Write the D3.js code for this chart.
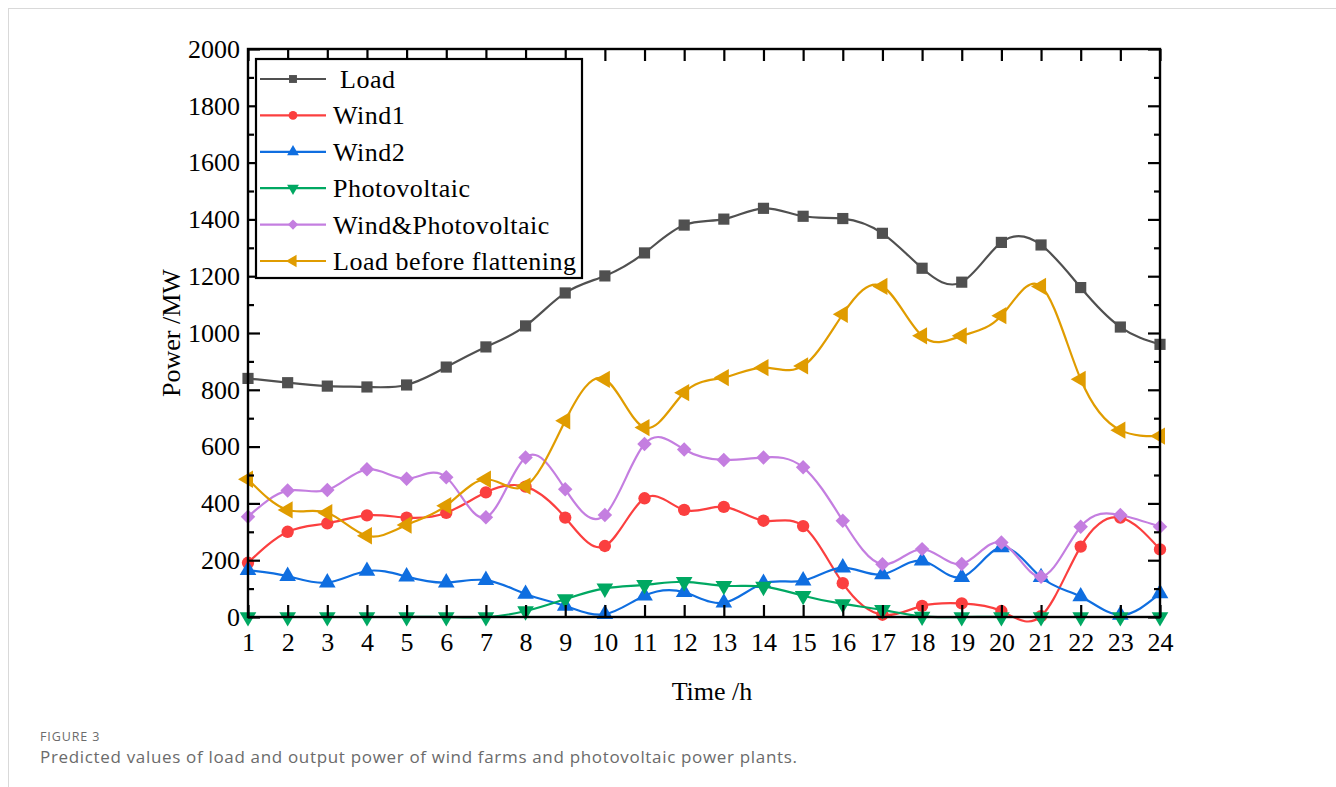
<!DOCTYPE html>
<html>
<head>
<meta charset="utf-8">
<script src="https://cdn.jsdelivr.net/npm/d3@7"></script>
<style>
  html, body { margin: 0; padding: 0; background: #fff; }
  svg { display: block; }
</style>
</head>
<body>
<svg id="chart" width="1336" height="787"></svg>
<script>
// Hourly forecast, MW
const hours = d3.range(1, 25);
const load = [840, 825, 813, 810, 817, 880, 951, 1025, 1141, 1201, 1282, 1380,
              1401, 1439, 1411, 1403, 1351, 1228, 1179, 1319, 1310, 1160, 1021, 960];
const wind1 = [191, 300, 330, 358, 350, 367, 439, 459, 350, 250, 418, 377,
               388, 339, 320, 119, 8, 39, 48, 21, 3, 248, 350, 238];
const wind2 = [165, 144, 121, 162, 142, 121, 130, 81, 39, 10, 75, 87,
               50, 119, 128, 174, 150, 198, 140, 245, 140, 72, 7, 83];
const photovoltaic = [0, 0, 0, 0, 0, 0, 0, 21, 63, 101, 113, 124,
                      110, 107, 75, 46, 25, 2, 0, 0, 0, 0, 0, 0];
const windPhotovoltaic = [353, 445, 447, 520, 487, 492, 351, 562, 450, 359, 609, 590,
                          553, 562, 527, 339, 186, 239, 187, 262, 142, 318, 359, 318];
const loadBeforeFlattening = [485, 377, 367, 286, 324, 392, 485, 461, 691, 837, 667, 790,
                              843, 878, 884, 1066, 1164, 990, 990, 1061, 1164, 837, 658, 637];
const yTicks = [0, 200, 400, 600, 800, 1000, 1200, 1400, 1600, 1800, 2000];
const yMinorTicks = d3.range(100, 2000, 200);

const series = [
  { name: "\u00a0Load", values: load, color: "#505050", symbol: d3.symbolSquare, size: 125, rotate: 0 },
  { name: "Wind1", values: wind1, color: "#fb3f3f", symbol: d3.symbolCircle, size: 120, rotate: 0 },
  { name: "Wind2", values: wind2, color: "#0f6ee0", symbol: d3.symbolTriangle, size: 120, rotate: 0 },
  { name: "Photovoltaic", values: photovoltaic, color: "#00a862", symbol: d3.symbolTriangle, size: 120, rotate: 180 },
  { name: "Wind&Photovoltaic", values: windPhotovoltaic, color: "#c47ee0", symbol: d3.symbolSquare, size: 105, rotate: 45 },
  { name: "Load before flattening", values: loadBeforeFlattening, color: "#e09c00", symbol: d3.symbolTriangle, size: 130, rotate: -90 }
];

const svg = d3.select("#chart");
const plotLeft = 248, plotRight = 1160, plotTop = 49, plotBottom = 617;
const serif = "'Liberation Serif', 'Times New Roman', serif";
const sans = "'Open Sans', 'Noto Sans', sans-serif";

const x = d3.scaleLinear().domain([1, 24]).range([plotLeft, plotRight]);
const y = d3.scaleLinear().domain([0, 2000]).range([plotBottom, plotTop]);

// outer frame of the figure panel
svg.append("rect").attr("x", 8.5).attr("y", 8.5).attr("width", 1336).attr("height", 800)
  .attr("fill", "none").attr("stroke", "#d9d9d9").attr("stroke-width", 1);

// series lines and markers
const line = d3.line().x((d, i) => x(hours[i])).y(d => y(d)).curve(d3.curveNatural);
const plot = svg.append("g");
series.forEach(s => {
  plot.append("path").attr("d", line(s.values))
    .attr("fill", "none").attr("stroke", s.color).attr("stroke-width", 2.2);
  const sym = d3.symbol().type(s.symbol).size(s.size);
  plot.append("g").selectAll("path").data(s.values).join("path")
    .attr("d", sym)
    .attr("transform", (d, i) => `translate(${x(hours[i])},${y(d)}) rotate(${s.rotate})`)
    .attr("fill", s.color);
});

// axes: ticks pointing inward on all four sides
const axisStyle = g => {
  g.attr("font-family", null);
  g.select(".domain").remove();
  g.selectAll(".tick line").attr("stroke", "#000").attr("stroke-width", 2.2);
  g.selectAll(".tick text").style("font-family", serif).style("font-size", "26px").attr("fill", "#000");
};

svg.append("g").attr("transform", `translate(${plotLeft},0)`)
  .call(d3.axisLeft(y).tickValues(yTicks).tickFormat(d3.format("d")).tickSizeInner(-12).tickPadding(8))
  .call(axisStyle);
svg.append("g").attr("transform", `translate(${plotLeft},0)`)
  .call(d3.axisLeft(y).tickValues(yMinorTicks).tickFormat("").tickSizeInner(-6))
  .call(axisStyle);
svg.append("g").attr("transform", `translate(${plotRight},0)`)
  .call(d3.axisRight(y).tickValues(yTicks).tickFormat("").tickSizeInner(-12))
  .call(axisStyle);
svg.append("g").attr("transform", `translate(${plotRight},0)`)
  .call(d3.axisRight(y).tickValues(yMinorTicks).tickFormat("").tickSizeInner(-6))
  .call(axisStyle);
svg.append("g").attr("transform", `translate(0,${plotBottom})`)
  .call(d3.axisBottom(x).tickValues(hours).tickFormat(d3.format("d")).tickSizeInner(-12).tickPadding(16))
  .call(axisStyle);
svg.append("g").attr("transform", `translate(0,${plotTop})`)
  .call(d3.axisTop(x).tickValues(hours).tickFormat("").tickSizeInner(-12))
  .call(axisStyle);

// plot frame
svg.append("rect").attr("x", plotLeft).attr("y", plotTop)
  .attr("width", plotRight - plotLeft).attr("height", plotBottom - plotTop)
  .attr("fill", "none").attr("stroke", "#000").attr("stroke-width", 2.4);

// axis titles
svg.append("text").attr("transform", `translate(180,${(plotTop + plotBottom) / 2}) rotate(-90)`)
  .attr("text-anchor", "middle").style("font-family", serif).style("font-size", "26px").text("Power /MW");
svg.append("text").attr("x", 712).attr("y", 700)
  .attr("text-anchor", "middle").style("font-family", serif).style("font-size", "26px").text("Time /h");

// legend
const legend = svg.append("g");
legend.append("rect").attr("x", 256).attr("y", 59).attr("width", 326).attr("height", 219)
  .attr("fill", "#fff").attr("stroke", "#000").attr("stroke-width", 2.2);
series.forEach((s, i) => {
  const ly = 79 + i * 36.4;
  legend.append("line").attr("x1", 260).attr("x2", 326).attr("y1", ly).attr("y2", ly)
    .attr("stroke", s.color).attr("stroke-width", 2.2);
  legend.append("path").attr("d", d3.symbol().type(s.symbol).size(s.size * 0.5)())
    .attr("transform", `translate(293,${ly}) rotate(${s.rotate})`).attr("fill", s.color);
  legend.append("text").attr("x", 333).attr("y", ly + 9).style("font-family", serif)
    .style("font-size", "26px").attr("letter-spacing", 0.5).text(s.name);
});

// caption
svg.append("text").attr("x", 40).attr("y", 741).style("font-family", sans)
  .style("font-size", "12.5px").attr("fill", "#6b6b6b").attr("letter-spacing", 0.9).text("FIGURE 3");
svg.append("text").attr("x", 40).attr("y", 763).style("font-family", sans)
  .style("font-size", "17px").attr("fill", "#6b6b6b")
  .attr("textLength", 757).attr("lengthAdjust", "spacing")
  .text("Predicted values of load and output power of wind farms and photovoltaic power plants.");
</script>
</body>
</html>
